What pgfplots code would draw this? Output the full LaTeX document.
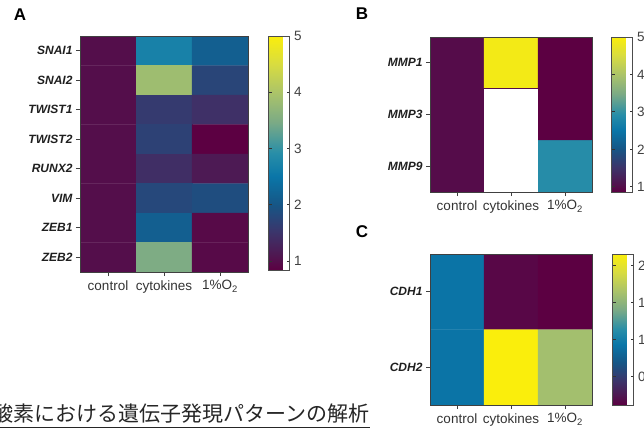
\documentclass[border=0pt]{standalone}
\usepackage{fontspec}
\setmainfont{Liberation Sans}
\newfontfamily\jp{Noto Sans CJK JP}
\usepackage{pgfplots}
\usepackage{pgfplotstable}
\pgfplotsset{compat=1.18}

\pgfplotsset{
  colormap={gp}{[1pt]
    rgb255(0pt)=(92,0,66)
    rgb255(6pt)=(80,22,80)
    rgb255(16pt)=(60,52,106)
    rgb255(28pt)=(22,86,134)
    rgb255(40pt)=(10,118,168)
    rgb255(50pt)=(40,142,168)
    rgb255(63pt)=(122,170,134)
    rgb255(76pt)=(172,196,104)
    rgb255(88pt)=(216,220,64)
    rgb255(100pt)=(250,238,12)
  },
  hm/.style={
    scale only axis,
    axis on top,
    colormap name=gp,
    enlargelimits=false,
    xmin=-0.5, xmax=2.5,
    y dir=reverse,
    tick pos=left,
    tick align=outside,
    major tick length=4pt,
    axis line style={draw=black!75, line width=1pt},
    tick style={draw=black!75, line width=0.9pt},
    xtick={0,1,2},
    xticklabels={control,cytokines,1\%O\textsubscript{2}},
    x tick label style={font=\fontsize{13.5}{14}\selectfont, text=black!80, yshift=-1pt},
    y tick label style={font=\fontsize{12}{13}\selectfont\bfseries\itshape, text=black!88},
    colorbar,
  },
  cb/.style={
    colorbar style={
      scale only axis,
      at={(parent axis.north east)}, anchor=north west,
      width=21pt,
      y dir=normal,
      ytick pos=both, yticklabel pos=right,
      tick align=inside,
      major tick length=3pt,
      axis line style={draw=black!70, line width=1pt},
      tick style={draw=black!80, line width=0.8pt},
      /pgf/number format/assume math mode=true,
      y tick label style={font=\fontsize{13.5}{14}\selectfont, text=black!75, xshift=1pt},
      #1
    }
  }
}

\pgfplotstableread{
x y z
0 0 1
1 0 2.7
2 0 2.15
0 1 1
1 1 3.85
2 1 1.75
0 2 1
1 2 1.6
2 2 1.45
0 3 1
1 3 1.7
2 3 0.84
0 4 1
1 4 1.42
2 4 1.15
0 5 1
1 5 1.8
2 5 1.88
0 6 1
1 6 2.15
2 6 0.95
0 7 1
1 7 3.5
2 7 0.95
}\dataA

\pgfplotstableread{
x y z
0 0 1
1 0 4.9
2 0 0.86
0 1 1
1 1 1
2 1 0.86
0 2 1
1 2 1
2 2 2.9
}\dataB

\pgfplotstableread{
x y z
0 0 0.92
1 0 0.16
2 0 0.12
0 1 0.92
1 1 2.16
2 1 1.62
}\dataC

\begin{document}
\begin{tikzpicture}[x=1pt,y=1pt]
\useasboundingbox (0,0) rectangle (644,432);

% Panel A
\begin{axis}[hm,
  at={(80pt,160pt)}, anchor=south west,
  width=168pt, height=236pt,
  ymin=-0.5, ymax=7.5,
  ytick={0,...,7},
  yticklabels={SNAI1,SNAI2,TWIST1,TWIST2,RUNX2,VIM,ZEB1,ZEB2},
  point meta min=0.84, point meta max=5,
  cb={xshift=12pt, height=234pt, ytick={1,2,3,4,5}},
]
\addplot[matrix plot*, mesh/cols=3, point meta=explicit] table[x=x, y=y, meta=z] {\dataA};
\end{axis}

% Panel B
\begin{axis}[hm,
  at={(430pt,240pt)}, anchor=south west,
  width=162pt, height=155pt,
  ymin=-0.5, ymax=2.5,
  ytick={0,1,2},
  yticklabels={MMP1,MMP3,MMP9},
  point meta min=0.86, point meta max=5,
  cb={xshift=11pt, height=155pt, ytick={1,2,3,4,5}},
]
\addplot[matrix plot*, mesh/cols=3, point meta=explicit] table[x=x, y=y, meta=z] {\dataB};
\addplot[fill=white, draw=none, forget plot] coordinates {(0.5,0.5) (1.5,0.5) (1.5,2.5) (0.5,2.5)} -- cycle;
\end{axis}

% Panel C
\begin{axis}[hm,
  at={(430pt,27pt)}, anchor=south west,
  width=162pt, height=151pt,
  ymin=-0.5, ymax=1.5,
  ytick={0,1},
  yticklabels={CDH1,CDH2},
  point meta min=0.12, point meta max=2.16,
  cb={xshift=12pt, height=151pt, ytick={0.5,1,1.5,2}, yticklabels={0.5,1.0,1.5,2.0}},
]
\addplot[matrix plot*, mesh/cols=3, point meta=explicit] table[x=x, y=y, meta=z] {\dataC};
\end{axis}

% Panel letters
\node[font=\fontsize{17}{18}\selectfont\bfseries] at (20,417) {A};
\node[font=\fontsize{17}{18}\selectfont\bfseries] at (362,418) {B};
\node[font=\fontsize{17}{18}\selectfont\bfseries] at (362,200) {C};

% Japanese caption (cut at the left edge)
\node[anchor=base east, inner sep=0pt, font=\jp\fontsize{21}{22}\selectfont, text=black!85] at (370,11) {低酸素における遺伝子発現パターンの解析};
\draw[black!85, line width=0.9pt] (0,4.5) -- (370,4.5);
\end{tikzpicture}
\end{document}
